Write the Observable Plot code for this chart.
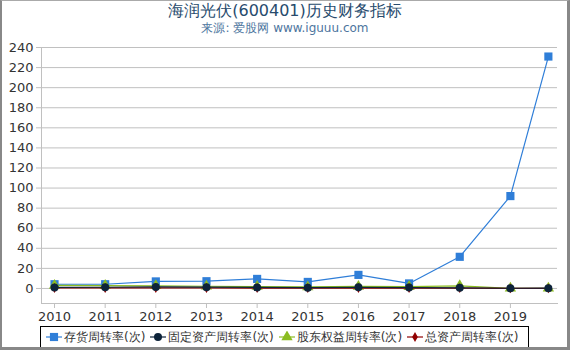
<!DOCTYPE html>
<html><head><meta charset="utf-8">
<script src="https://cdn.jsdelivr.net/npm/d3@7"></script>
<script src="https://cdn.jsdelivr.net/npm/@observablehq/plot@0.6"></script>
<style>
html,body{margin:0;padding:0;background:#fff;}
body{width:570px;height:350px;overflow:hidden;position:relative;font-family:"DejaVu Sans",sans-serif;box-sizing:border-box;}
#frame{position:absolute;left:0;top:0;width:570px;height:350px;box-sizing:border-box;border-left:2px solid #888;border-top:1px solid #aaa;border-right:3px solid #888;border-bottom:3px solid #888;pointer-events:none;}
#title{position:absolute;top:0;left:0;width:570px;text-align:center;font-size:16px;color:#274b6d;line-height:22px;}
#subtitle{position:absolute;top:19px;left:0;width:570px;text-align:center;font-size:12px;color:#4d759e;line-height:18px;}
#chart{position:absolute;top:40px;left:0;}
#legend{position:absolute;left:40px;top:326px;width:489px;height:22px;border:1px solid #000;box-sizing:border-box;display:flex;align-items:center;font-size:12px;color:#333;white-space:nowrap;}
.item{display:flex;align-items:center;margin-left:5px;flex-shrink:0;}
.item span{flex-shrink:0;}
.item svg{margin-right:2px;flex-shrink:0;}
</style></head>
<body>
<div id="title">海润光伏(600401)历史财务指标</div>
<div id="subtitle">来源: 爱股网 www.iguuu.com</div>
<div id="chart"></div>
<div id="legend"></div>
<div id="frame"></div>
<script>
const years = [2010, 2011, 2012, 2013, 2014, 2015, 2016, 2017, 2018, 2019, 2019.75];
const tickYears = [2010, 2011, 2012, 2013, 2014, 2015, 2016, 2017, 2018, 2019];
const yTicks = [0, 20, 40, 60, 80, 100, 120, 140, 160, 180, 200, 220, 240];
const seriesNames = ["存货周转率(次)", "固定资产周转率(次)", "股东权益周转率(次)", "总资产周转率(次)"];
const inventory = [4.2, 4.2, 7.0, 7.2, 9.5, 6.5, 13.5, 5.0, 31.5, 92, 231];
const fixedAsset = [1.0, 1.2, 1.5, 1.3, 1.0, 0.8, 1.1, 0.9, 0.6, 0.2, 0.3];
const equity = [3.0, 2.8, 2.6, 2.2, 1.9, 1.5, 2.0, 1.8, 2.6, 0.1, 0.1];
const totalAsset = [0.5, 0.5, 0.5, 0.5, 0.4, 0.4, 0.4, 0.4, 0.3, 0.05, 0.05];

const colors = ["#2f7ed8", "#0d233a", "#8bbc21", "#910000"];
const symbols = ["square", "circle", "triangle", "diamond"];
const radii = [4.6, 4, 4.2, 3];
const allValues = [inventory, fixedAsset, equity, totalAsset];

const data = [];
allValues.forEach((vals, s) => vals.forEach((v, i) => data.push({series: seriesNames[s], year: years[i], value: v})));

const marks = [
  Plot.gridY(yTicks, {stroke: "#c0c0c0", strokeOpacity: 1}),
  Plot.frame({anchor: "left", stroke: "#c0c0c0"}),
  Plot.frame({anchor: "bottom", stroke: "#c0c0c0"}),
  Plot.axisY(yTicks, {tickSize: 5, tickPadding: 3, fontSize: 13, fill: "#333", stroke: "#c0c0c0", label: null}),
  Plot.axisX(tickYears, {tickSize: 5, tickPadding: 3, fontSize: 13, fill: "#333", stroke: "#c0c0c0", label: null, tickFormat: d => String(d)})
];
[0, 2, 3, 1].forEach(s => {
  const name = seriesNames[s];
  const d = data.filter(r => r.series === name);
  marks.push(Plot.line(d, {x: "year", y: "value", stroke: colors[s], strokeWidth: 1.2}));
  marks.push(Plot.dot(d, {x: "year", y: "value", symbol: () => symbols[s], fill: colors[s], r: radii[s], stroke: "none"}));
});

const chart = Plot.plot({
  width: 570,
  height: 283,
  marginTop: 7,
  marginBottom: 20,
  marginLeft: 41,
  marginRight: 13,
  style: {fontFamily: "DejaVu Sans, sans-serif", background: "transparent"},
  x: {domain: [2009.743, 2019.93], axis: null, label: null},
  y: {domain: [-15, 240], axis: null, label: null},
  marks
});
document.getElementById("chart").appendChild(chart);

const legend = document.getElementById("legend");
seriesNames.forEach((name, s) => {
  const item = document.createElement("div");
  item.className = "item";
  const sym = d3.symbol(d3.symbolsFill[["circle","cross","diamond","square","star","triangle","wye"].indexOf(symbols[s])], Math.PI * radii[s] * radii[s])();
  item.innerHTML = `<svg width="16" height="12"><line x1="0" x2="16" y1="6" y2="6" stroke="${colors[s]}" stroke-width="1.2"/><path d="${sym}" transform="translate(8,6)" fill="${colors[s]}"/></svg><span>${name}</span>`;
  legend.appendChild(item);
});
</script>
</body></html>
